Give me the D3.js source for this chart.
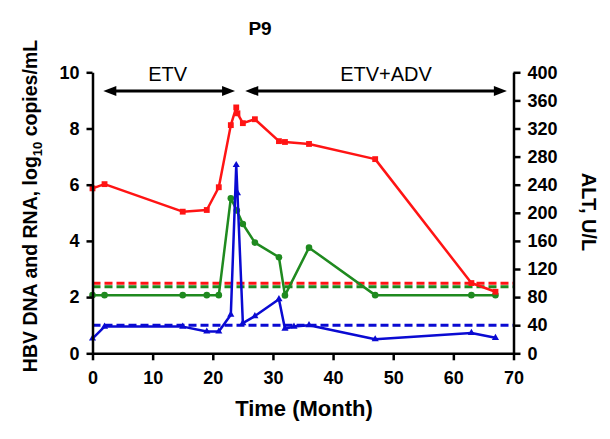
<!DOCTYPE html>
<html>
<head>
<meta charset="utf-8">
<script src="https://cdn.jsdelivr.net/npm/d3@7"></script>
<style>
  html, body { margin: 0; padding: 0; background: #fff; }
  svg { display: block; }
  text { font-family: "Liberation Sans", Arial, sans-serif; }
</style>
</head>
<body>
<svg id="chart" width="610" height="439"></svg>
<script>
// ---- data ----
const dnaMonths = [0, 2, 15, 19, 21, 23, 23.9, 24.1, 25, 27, 31, 32, 36, 47, 63, 67];
const dnaValues = [5.87, 6.02, 5.04, 5.10, 5.91, 8.12, 8.75, 8.54, 8.19, 8.33, 7.55, 7.52, 7.45, 6.91, 2.50, 2.19];

const rnaMonths = [0, 2, 15, 19, 21, 23, 24, 25, 27, 31, 32, 36, 47, 63, 67];
const rnaValues = [2.07, 2.07, 2.07, 2.07, 2.07, 5.52, 5.08, 4.60, 3.94, 3.42, 2.06, 3.76, 2.07, 2.07, 2.07];

const altMonths = [0, 2, 15, 19, 21, 23, 23.9, 24.1, 25, 27, 31, 32, 33.5, 36, 47, 63, 67];
const altValues = [21, 38, 38, 31, 31, 55, 268, 228, 43, 53, 77, 35, 38, 40, 20, 29, 22];

const dnaCutoff = 2.49;   // log10 copies/mL
const rnaCutoff = 2.37;   // log10 copies/mL
const altCutoff = 40;     // U/L

const xTicks = [0, 10, 20, 30, 40, 50, 60, 70];
const leftTicks = [0, 2, 4, 6, 8, 10];
const rightTicks = [0, 40, 80, 120, 160, 200, 240, 280, 320, 360, 400];

const periodLabels = ["ETV", "ETV+ADV"];
const periodStart = [1.8, 25.4];
const periodEnd = [23.7, 68.9];
const periodLabelAt = [12.5, 48.8];

// ---- layout ----
const svg = d3.select("#chart");
const pLeft = 92.5, pRight = 513.5, pTop = 72.3, pBottom = 353.3;
const x = d3.scaleLinear().domain([0, 70]).range([pLeft, pRight]);
const yL = d3.scaleLinear().domain([0, 10]).range([pBottom, pTop]);
const yR = d3.scaleLinear().domain([0, 400]).range([pBottom, pTop]);

const RED = "#ff1414", GREEN = "#1f8a1f", BLUE = "#0a0ad2";

// dashed cut-off lines
function hline(yv, color) {
  svg.append("line")
    .attr("x1", x(0)).attr("x2", x(70))
    .attr("y1", yv).attr("y2", yv)
    .attr("stroke", color).attr("stroke-width", 3)
    .attr("stroke-dasharray", "8,4");
}
hline(yR(altCutoff), BLUE);
hline(yL(rnaCutoff), GREEN);
hline(yL(dnaCutoff), RED);

// series
function series(months, values, yScale, color, shape) {
  const pts = months.map((m, i) => [x(m), yScale(values[i])]);
  svg.append("path")
    .attr("d", d3.line()(pts))
    .attr("fill", "none").attr("stroke", color).attr("stroke-width", 2.5)
    .attr("stroke-linejoin", "round");
  const sym = d3.symbol().type(shape).size(shape === d3.symbolTriangle ? 22 : 34);
  svg.append("g").selectAll("path").data(pts).join("path")
    .attr("transform", d => `translate(${d[0]},${d[1]})`)
    .attr("d", sym())
    .attr("fill", color);
}
series(rnaMonths, rnaValues, yL, GREEN, d3.symbolCircle);
series(altMonths, altValues, yR, BLUE, d3.symbolTriangle);
series(dnaMonths, dnaValues, yL, RED, d3.symbolSquare);

// axes
const fontTick = "bold 18px 'Liberation Sans', Arial, sans-serif";
function styleAxis(g) {
  g.selectAll("path.domain").attr("stroke", "#000").attr("stroke-width", 2.5);
  g.selectAll(".tick line").attr("stroke", "#000").attr("stroke-width", 2.5);
  g.selectAll(".tick text").attr("fill", "#000")
    .style("font", fontTick);
}
svg.append("g").attr("transform", `translate(0,${pBottom})`)
  .call(d3.axisBottom(x).tickValues(xTicks).tickSize(7).tickPadding(11).tickSizeOuter(0))
  .call(styleAxis);
svg.append("g").attr("transform", `translate(${pLeft},0)`)
  .call(d3.axisLeft(yL).tickValues(leftTicks).tickSize(6).tickPadding(7).tickSizeOuter(0))
  .call(styleAxis);
svg.append("g").attr("transform", `translate(${pRight},0)`)
  .call(d3.axisRight(yR).tickValues(rightTicks).tickSize(7).tickPadding(7).tickSizeOuter(0))
  .call(styleAxis);

// treatment arrows
const arrowY = 91;
periodLabels.forEach((lab, i) => {
  const x1 = x(periodStart[i]), x2 = x(periodEnd[i]);
  const hl = 13, hw = 5;
  svg.append("line").attr("x1", x1 + hl - 1).attr("x2", x2 - hl + 1)
    .attr("y1", arrowY).attr("y2", arrowY)
    .attr("stroke", "#000").attr("stroke-width", 3);
  svg.append("path")
    .attr("d", `M${x1},${arrowY} L${x1 + hl},${arrowY - hw} L${x1 + hl},${arrowY + hw} Z`)
    .attr("fill", "#000");
  svg.append("path")
    .attr("d", `M${x2},${arrowY} L${x2 - hl},${arrowY - hw} L${x2 - hl},${arrowY + hw} Z`)
    .attr("fill", "#000");
  svg.append("text")
    .attr("x", x(periodLabelAt[i])).attr("y", 81)
    .attr("text-anchor", "middle")
    .style("font", "20px 'Liberation Sans', Arial, sans-serif")
    .attr("fill", "#000")
    .text(lab);
});

// title
svg.append("text").attr("x", 260).attr("y", 35).attr("text-anchor", "middle")
  .style("font", "bold 19px 'Liberation Sans', Arial, sans-serif").text("P9");

// x label
svg.append("text").attr("x", 304).attr("y", 416).attr("text-anchor", "middle")
  .style("font", "bold 22px 'Liberation Sans', Arial, sans-serif").text("Time (Month)");

// left label
const ly = svg.append("text")
  .attr("transform", "translate(37,206) rotate(-90)")
  .attr("text-anchor", "middle")
  .style("font", "bold 19.5px 'Liberation Sans', Arial, sans-serif");
ly.append("tspan").text("HBV DNA and RNA, log");
ly.append("tspan").attr("dy", 5).style("font-size", "13px").text("10");
ly.append("tspan").attr("dy", -5).text(" copies/mL");

// right label
svg.append("text")
  .attr("transform", "translate(582,212) rotate(90)")
  .attr("text-anchor", "middle")
  .style("font", "bold 20px 'Liberation Sans', Arial, sans-serif")
  .text("ALT, U/L");
</script>
</body>
</html>
